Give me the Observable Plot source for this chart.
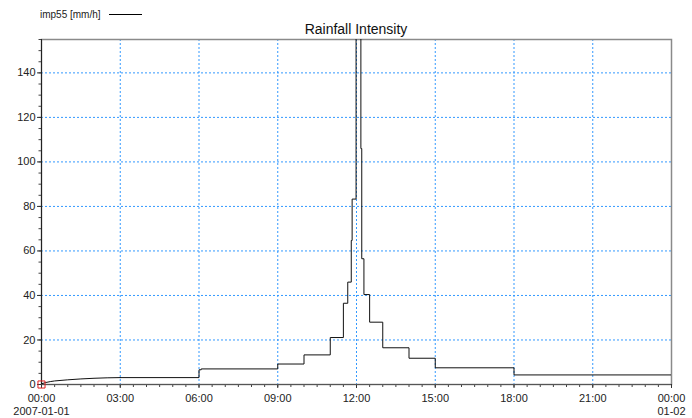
<!DOCTYPE html>
<html><head><meta charset="utf-8">
<script src="https://cdn.jsdelivr.net/npm/d3@7"></script>
<script src="https://cdn.jsdelivr.net/npm/@observablehq/plot@0.6"></script>
<style>
body{margin:0;background:#fff;font-family:"Liberation Sans",Arial,sans-serif;}
#wrap{position:relative;width:692px;height:418px;overflow:hidden;}
#chart{position:absolute;left:0;top:0;}
#legend{position:absolute;left:40px;top:9px;font-size:10px;color:#222;line-height:12px;white-space:nowrap;}
#legend .sw{display:inline-block;width:33px;height:0;border-top:1px solid #000;vertical-align:middle;margin-left:8px;position:relative;top:-1px;}
#title{position:absolute;left:41px;width:630px;top:21px;text-align:center;font-size:14px;color:#111;line-height:16px;}
</style></head><body>
<div id="wrap"><div id="chart"></div><div id="legend"></div><div id="title"></div></div>
<script>
const titleText = "Rainfall Intensity";
const seriesName = "imp55 [mm/h]";
const startDateLabel = "2007-01-01";
const endDateLabel = "01-02";

// early smooth ramp (linear segments)
const rampTimes  = ["00:00","00:10","00:20","00:30","01:00","01:30","02:00","02:30","03:00"];
const rampValues = [0.3, 0.9, 1.3, 1.6, 2.1, 2.5, 2.8, 3.0, 3.1];

// step portion (value holds from time to next time)
const stepTimes  = ["03:00","06:00","06:05","09:00","10:00","11:00","11:30","11:40","11:48","11:50","11:59","12:10","12:12","12:17","12:30","13:00","14:00","15:00","18:00","24:00"];
const stepValues = [3.1, 6.6, 7.0, 9.2, 13.3, 21.1, 36.5, 46, 64.7, 83.3, 200, 106, 56.5, 40.4, 28, 16.5, 11.8, 7.5, 4.3, 4.3];

const yMajor = [0,20,40,60,80,100,120,140];
const yGridVals = [20,40,60,80,100,120,140];
const yMinor = d3.range(0, 156, 5);

document.getElementById("legend").innerHTML = seriesName + '<span class="sw"></span>';
document.getElementById("title").textContent = titleText;

const parse = s => { const [h,m] = s.split(":").map(Number); return new Date(Date.UTC(2007,0,1,h,m)); };
const t0 = parse("00:00"), t1 = parse("24:00");
const ramp = rampTimes.map((t,i)=>({t:parse(t), v:rampValues[i]}));
const steps = stepTimes.map((t,i)=>({t:parse(t), v:stepValues[i]}));
const majorX = d3.utcHour.every(3).range(t0, new Date(+t1+1));
const innerX = majorX.filter(d => +d > +t0 && +d < +t1);
const minorX = d3.utcMinute.every(30).range(t0, new Date(+t1+1));
const fmt = d3.utcFormat("%H:%M");
const xLabel = d => +d === +t0 ? fmt(d)+"\n"+startDateLabel : (+d === +t1 ? fmt(d)+"\n"+endDateLabel : fmt(d));

const chart = Plot.plot({
  width: 692, height: 418,
  marginLeft: 41, marginRight: 21, marginTop: 39, marginBottom: 34,
  style: {fontFamily: "Liberation Sans, Arial, sans-serif", fontSize: "11px", color: "#222", background: "#fff"},
  x: {type: "utc", domain: [t0, t1]},
  y: {domain: [0, 155]},
  marks: [
    Plot.gridX(innerX, {stroke: "#3399ff", strokeOpacity: 1, strokeDasharray: "2,2"}),
    Plot.gridY(yGridVals, {stroke: "#3399ff", strokeOpacity: 1, strokeDasharray: "2,2"}),
    Plot.frame({stroke: "#8a8a8a", strokeWidth: 1.5}),
    Plot.axisX(minorX, {tickSize: 3, tickFormat: () => "", label: null, stroke: "#444"}),
    Plot.axisX(majorX, {tickSize: 4, tickPadding: 4, tickFormat: xLabel, lineHeight: 1.2, label: null, stroke: "#333", fill: "#222"}),
    Plot.axisY(yMinor, {tickSize: 2.5, tickFormat: () => "", label: null, stroke: "#444"}),
    Plot.axisY(yMajor, {tickSize: 4, tickPadding: 2, label: null, stroke: "#333", fill: "#222"}),
    Plot.ruleX([t0], {stroke: "#222"}),
    Plot.ruleY([0], {stroke: "#555"}),
    Plot.line(ramp, {x: "t", y: "v", stroke: "#111", strokeWidth: 1}),
    Plot.line(steps, {x: "t", y: "v", curve: "step-after", stroke: "#111", strokeWidth: 1, clip: true}),
    Plot.dot([{t: t0, v: 0}], {x: "t", y: "v", symbol: "square", r: 4, stroke: "#e02020", fill: "none", strokeWidth: 1})
  ]
});
document.getElementById("chart").appendChild(chart);
</script>
</body></html>
